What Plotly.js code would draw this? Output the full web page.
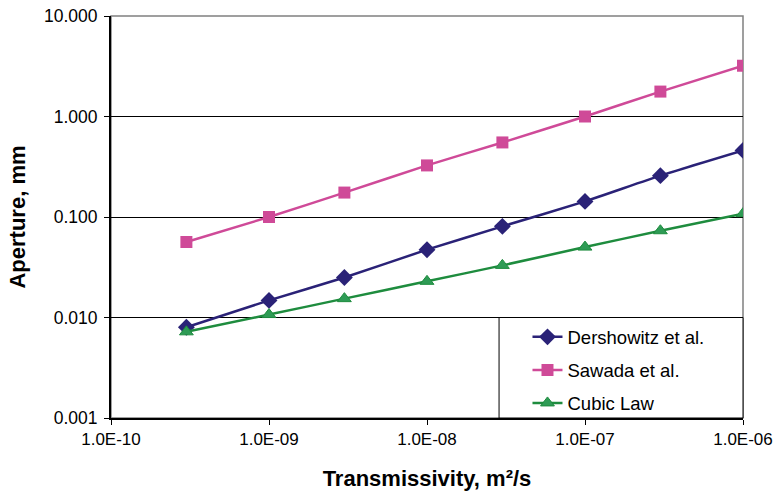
<!DOCTYPE html>
<html>
<head>
<meta charset="utf-8">
<script src="https://cdn.plot.ly/plotly-3.0.1.min.js"></script>
<style>html,body{margin:0;padding:0;background:#fff;}#chart{width:784px;height:495px;}</style>
</head>
<body>
<div id="chart"></div>
<script>
const transmissivity = [3e-10, 1e-9, 3e-9, 1e-8, 3e-8, 1e-7, 3e-7, 1e-6];
const dershowitz = [0.0080, 0.0148, 0.0250, 0.0473, 0.0807, 0.143, 0.258, 0.460];
const sawada = [0.0564, 0.100, 0.175, 0.326, 0.552, 1.00, 1.77, 3.20];
const cubicLaw = [0.0072, 0.0107, 0.0154, 0.0229, 0.0330, 0.0502, 0.0730, 0.108];
const xTickVals = [1e-10, 1e-9, 1e-8, 1e-7, 1e-6];
const xTickText = ['1.0E-10', '1.0E-09', '1.0E-08', '1.0E-07', '1.0E-06'];
const yTickVals = [0.001, 0.01, 0.1, 1, 10];
const yTickText = ['0.001', '0.010', '0.100', '1.000', '10.000'];

const font = 'Liberation Sans, Arial, sans-serif';
const traces = [
  {x: transmissivity, y: dershowitz, name: 'Dershowitz et al.', legendgroup: 'a', mode: 'lines+markers',
   line: {color: '#2A2277', width: 2.5, shape: 'spline', smoothing: 0.5},
   marker: {symbol: 'diamond', size: 13, color: '#2A2277'}},
  {x: transmissivity, y: sawada, name: 'Sawada et al.', legendgroup: 'b', mode: 'lines+markers',
   line: {color: '#CF4A98', width: 2.5, shape: 'spline', smoothing: 0.5},
   marker: {symbol: 'square', size: 12, color: '#CF4A98'}},
  {x: transmissivity, y: cubicLaw, name: 'Cubic Law', legendgroup: 'c', mode: 'lines+markers',
   line: {color: '#1E8C3E', width: 2.5, shape: 'spline', smoothing: 0.5},
   marker: {symbol: 'triangle-up', size: 12, color: '#2E9B55', line: {color: '#1E8C3E', width: 1}}}
];
const layout = {
  width: 784, height: 495,
  margin: {l: 111, r: 41, t: 16, b: 77},
  paper_bgcolor: '#fff', plot_bgcolor: '#fff',
  font: {family: font, size: 17, color: '#000'},
  showlegend: true,
  legend: {x: 0.659, y: 0.248, xanchor: 'left', yanchor: 'top', bgcolor: 'rgba(0,0,0,0)',
           borderwidth: 0, tracegroupgap: 6, font: {family: font, size: 18.5, color: '#000'}},
  xaxis: {type: 'log', range: [-10, -6], tickvals: xTickVals, ticktext: xTickText,
          showgrid: false, showline: true, linecolor: '#000', linewidth: 2,
          ticks: 'outside', ticklen: 5, tickcolor: '#000', tickwidth: 1,
          tickfont: {family: font, size: 17}, zeroline: false,
          title: {text: '<b>Transmissivity, m²/s</b>', font: {family: font, size: 22}, standoff: 22}},
  yaxis: {type: 'log', range: [-3, 1], tickvals: yTickVals, ticktext: yTickText,
          showgrid: true, gridcolor: '#000', gridwidth: 1,
          showline: true, linecolor: '#000', linewidth: 2,
          ticks: 'outside', ticklen: 5, tickcolor: '#000', tickwidth: 1, ticklabelstandoff: 3,
          tickfont: {family: font, size: 17.5}, zeroline: false,
          title: {text: '<b>Aperture, mm</b>', font: {family: font, size: 22}, standoff: 12}},
  shapes: [
    {type: 'rect', xref: 'paper', yref: 'paper', x0: 0, x1: 1, y0: 0, y1: 1,
     line: {color: '#808080', width: 1.5}, layer: 'below'},
    {type: 'rect', xref: 'paper', yref: 'paper', x0: 0.614, x1: 1, y0: 0, y1: 0.25,
     line: {color: '#000', width: 1}, fillcolor: '#fff', layer: 'above'}
  ]
};
Plotly.newPlot('chart', traces, layout, {displayModeBar: false, staticPlot: true});
</script>
</body>
</html>
